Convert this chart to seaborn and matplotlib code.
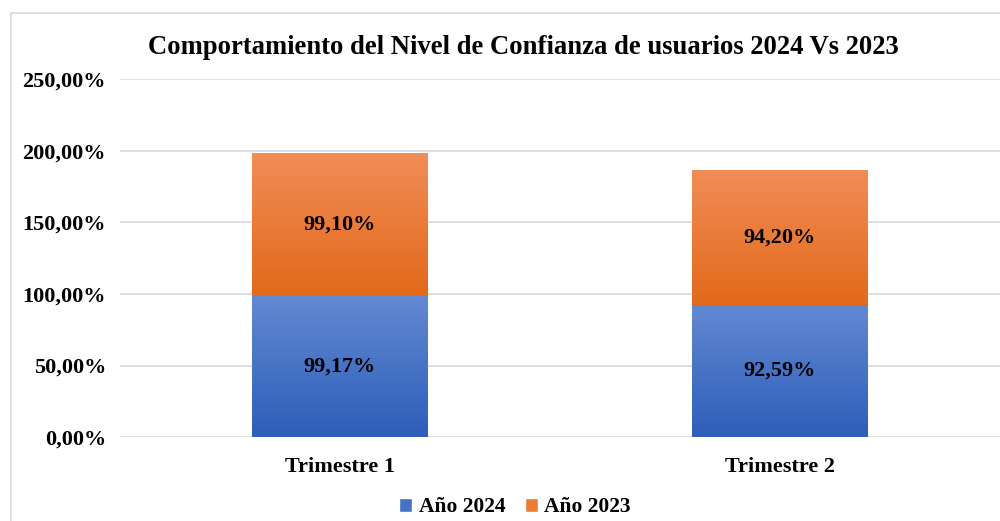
import matplotlib
matplotlib.use("Agg")
import matplotlib.pyplot as plt
import matplotlib.colors as mcolors
from matplotlib.patches import Rectangle, Patch
from matplotlib.ticker import FuncFormatter
import numpy as np
import seaborn as sns

sns.set_style("white")
plt.rcParams["font.family"] = ["Liberation Serif", "DejaVu Serif"]
plt.rcParams["font.weight"] = "bold"
plt.rcParams["text.color"] = "black"
plt.rcParams["xtick.color"] = "black"
plt.rcParams["ytick.color"] = "black"

# Data
trimestres = ["Trimestre 1", "Trimestre 2"]
anio_2024 = [99.17, 92.59]
anio_2023 = [99.10, 94.20]
labels_2024 = ["99,17%", "92,59%"]
labels_2023 = ["99,10%", "94,20%"]

blue_top, blue_bot = "#6389d2", "#2d5eb9"
orange_top, orange_bot = "#f18d57", "#e2691a"


def fmt_pct(v, pos):
    return f"{v:.2f}".replace(".", ",") + "%"


def gradient_fill(ax, patches, top, bot):
    cmap = mcolors.LinearSegmentedColormap.from_list("g", [bot, top])
    grad = np.linspace(0, 1, 256).reshape(-1, 1)
    for p in patches:
        x0, y0 = p.get_x(), p.get_y()
        w, h = p.get_width(), p.get_height()
        im = ax.imshow(grad, cmap=cmap, aspect="auto", origin="lower",
                       extent=[x0, x0 + w, y0, y0 + h], zorder=p.get_zorder())
        im.set_clip_path(p)


fig = plt.figure(figsize=(10, 5.21), dpi=100)
ax = fig.add_axes([0.12, 0.161, 0.88, 0.687])

# Chart frame
fig.patches.append(Rectangle((0.011, -0.05), 1.1, 1.025, transform=fig.transFigure,
                             fill=False, edgecolor="#d9d9d9", linewidth=1.2))

sns.barplot(x=trimestres, y=anio_2024, color=blue_bot,
            width=0.4, ax=ax, zorder=2, linewidth=0)
n_low = len(ax.patches)
sns.barplot(x=trimestres, y=anio_2023, bottom=anio_2024, color=orange_bot,
            width=0.4, ax=ax, zorder=2, linewidth=0)

low = ax.patches[:n_low]
high = ax.patches[n_low:]
gradient_fill(ax, low, blue_top, blue_bot)
gradient_fill(ax, high, orange_top, orange_bot)

for p, t in zip(low, labels_2024):
    ax.text(p.get_x() + p.get_width() / 2, p.get_y() + p.get_height() / 2, t,
            ha="center", va="center", fontsize=16, fontweight="bold", zorder=5)
for p, t in zip(high, labels_2023):
    ax.text(p.get_x() + p.get_width() / 2, p.get_y() + p.get_height() / 2, t,
            ha="center", va="center", fontsize=16, fontweight="bold", zorder=5)

ax.set_xlim(-0.5, 1.5)
ax.set_ylim(0, 250)
ax.set_yticks(np.arange(0, 251, 50))
ax.yaxis.set_major_formatter(FuncFormatter(fmt_pct))
ax.grid(axis="y", color="#d9d9d9", linewidth=1.2, zorder=0)
ax.set_axisbelow(True)
sns.despine(ax=ax, left=True, bottom=True, top=True, right=True)
ax.tick_params(axis="both", length=0, labelsize=16)
ax.tick_params(axis="y", pad=10)
ax.tick_params(axis="x", pad=14)
for lbl in ax.get_xticklabels() + ax.get_yticklabels():
    lbl.set_fontweight("bold")
ax.set_xlabel("")
ax.set_ylabel("")

fig.text(0.523, 0.908, "Comportamiento del Nivel de Confianza de usuarios 2024 Vs 2023",
         ha="center", va="center", fontsize=19.2, fontweight="bold")

handles = [Patch(facecolor="#4472c4", label="Año 2024"),
           Patch(facecolor="#ed7d31", label="Año 2023")]
fig.legend(handles=handles, loc="center", bbox_to_anchor=(0.515, 0.026), ncol=2,
           frameon=False, fontsize=15.5, handlelength=0.6, handleheight=0.6,
           handletextpad=0.3, columnspacing=0.9)

fig.savefig("out.png", dpi=100)
